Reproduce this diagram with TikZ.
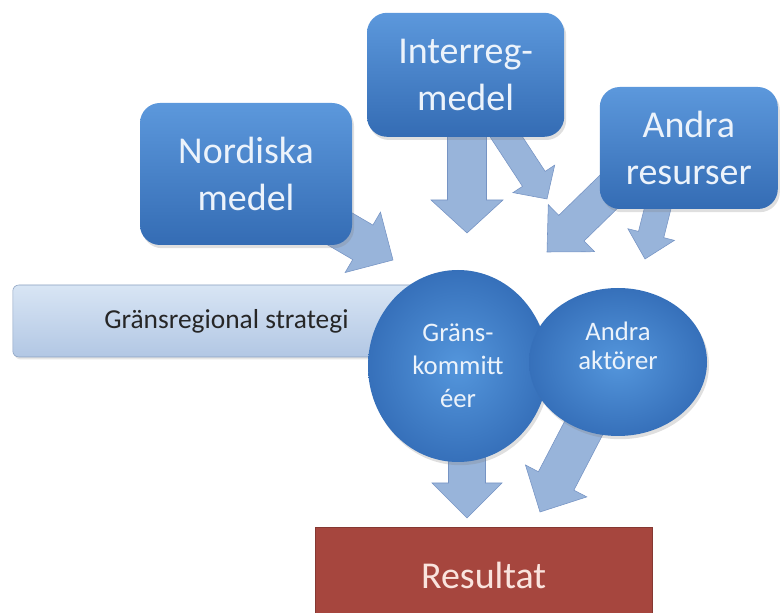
\documentclass[tikz,border=0pt]{standalone}
\usepackage{fontspec}
\setmainfont{Carlito}
\usetikzlibrary{calc,shapes.geometric,backgrounds,shadows}

\definecolor{boxtop}{RGB}{92,152,220}
\definecolor{boxbot}{RGB}{52,108,180}
\definecolor{boxtext}{RGB}{236,243,251}
\definecolor{circin}{RGB}{84,150,220}
\definecolor{circout}{RGB}{54,112,186}
\definecolor{arrfill}{RGB}{152,180,218}
\definecolor{arrline}{RGB}{118,148,196}
\definecolor{bartop}{RGB}{216,229,244}
\definecolor{barbot}{RGB}{178,199,228}
\definecolor{barline}{RGB}{138,160,192}
\definecolor{resred}{RGB}{166,70,62}
\definecolor{restext}{RGB}{250,228,222}

% block arrow: tail, tip, shaft width, head width, head length
\newcommand{\blockarrow}[5]{%
  \filldraw[barrow] let \p1=($(#2)-(#1)$), \n1={atan2(\y1,\x1)}, \n2={veclen(\x1,\y1)} in
    ($(#1)+(\n1+90:#3/2)$) -- ++(\n1:\n2-#5) -- ++(\n1+90:#4/2-#3/2) -- (#2)
    -- ($(#2)+(\n1:-#5)+(\n1-90:#4/2)$) -- ++(\n1+90:#4/2-#3/2)
    -- ($(#1)+(\n1-90:#3/2)$) -- cycle;}

\begin{document}
\begin{tikzpicture}[
    bluebox/.style={rectangle, rounded corners=0.5cm, top color=boxtop, bottom color=boxbot,
      text=boxtext, align=center, font=\fontsize{27}{33}\selectfont,
      drop shadow={opacity=0.25, shadow xshift=0.05cm, shadow yshift=-0.08cm}},
    bluecirc/.style={ellipse, inner sep=0pt, inner color=circin, outer color=circout,
      text=boxtext, align=center, font=\fontsize{19}{23.5}\selectfont,
      drop shadow={opacity=0.25, shadow xshift=0.05cm, shadow yshift=-0.08cm}},
    circtext/.style={text=boxtext, align=center, font=\fontsize{19}{21}\selectfont},
    stratbar/.style={rectangle, rounded corners=0.15cm, top color=bartop, bottom color=barbot,
      draw=barline, text=black!85, font=\fontsize{19.5}{23}\selectfont,
      drop shadow={opacity=0.2, shadow xshift=0.04cm, shadow yshift=-0.06cm}},
    resbox/.style={rectangle, fill=resred, draw=resred!80!black, text=restext,
      font=\fontsize{27}{33}\selectfont},
    barrow/.style={fill=arrfill, draw=arrline, line width=0.4pt, line join=miter}
  ]
  \useasboundingbox (0,0) rectangle (19.575,15.3);
  \clip (0,0) rectangle (19.575,15.3);

  \node[bluebox, minimum width=5.3cm, minimum height=3.55cm] at (6.15,10.95) (nord) {Nordiska\\medel};
  \node[bluebox, minimum width=4.93cm, minimum height=3.1cm] at (11.64,13.43) (inter) {Interreg-\\medel};
  \node[bluebox, minimum width=4.45cm, minimum height=3.05cm] at (17.22,11.6) (andres) {Andra\\resurser};
  \node[stratbar, minimum width=10.68cm, minimum height=1.8cm] at (5.66,7.275) (strat) {Gränsregional strategi};
  \node[bluecirc, minimum width=4.5cm, minimum height=4.8cm] at (11.45,6.15) (grans) {Gräns-\\kommitt\\éer};
  \node[bluecirc, minimum width=4.45cm, minimum height=3.7cm,
    label={[circtext, yshift=0.4cm]center:Andra\\aktörer}] at (15.45,6.25) (andakt) {};
  \node[resbox, minimum width=8.43cm, minimum height=2.4cm] at (12.09,0.925) (res) {Resultat};

  \coordinate (tipnord) at (9.825,8.8);
  \coordinate (tipint) at (11.675,9.475);
  \coordinate (tipint2) at (13.675,10.325);
  \coordinate (tipres) at (13.675,9.0);
  \coordinate (tipres2) at (16.125,8.825);
  \coordinate (tipgr) at (11.675,2.35);
  \coordinate (tipakt) at (13.5,2.5);

  \begin{scope}[on background layer]
    \blockarrow{nord.center}{tipnord}{1.0cm}{1.75cm}{0.875cm}
    \blockarrow{tipint |- inter.center}{tipint}{0.975cm}{1.8cm}{0.825cm}
    \blockarrow{inter.center}{tipint2}{0.68cm}{1.25cm}{0.6cm}
    \blockarrow{$(andres.south west)+(0.6,0.8)$}{tipres}{0.9cm}{1.65cm}{0.85cm}
    \blockarrow{$(andres.center)+(-0.4,0)$}{tipres2}{0.65cm}{1.2cm}{0.63cm}
    \blockarrow{tipgr |- grans.center}{tipgr}{0.925cm}{1.75cm}{0.875cm}
    \blockarrow{andakt.center}{tipakt}{1.0cm}{1.73cm}{0.875cm}
  \end{scope}
\end{tikzpicture}
\end{document}
